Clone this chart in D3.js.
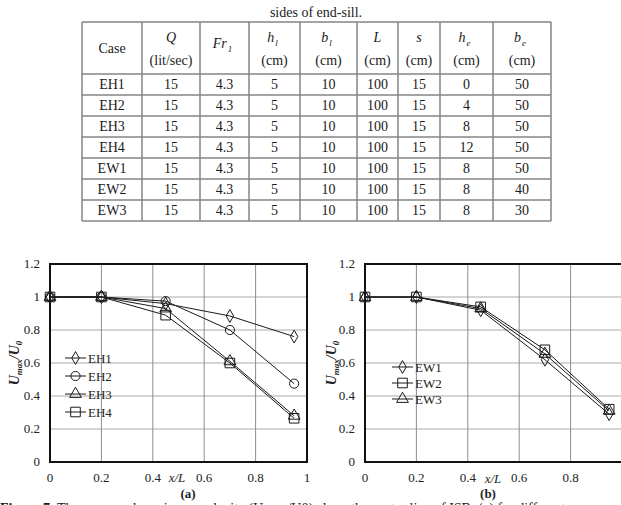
<!DOCTYPE html>
<html>
<head>
<meta charset="utf-8">
<title>End-sill velocity decay</title>
<script src="https://cdn.jsdelivr.net/npm/d3@7"></script>
<style>
  body { margin: 0; background: #fff; }
  svg { display: block; background: #fff; font-family: "Liberation Serif", "Times New Roman", serif; }
  .rule { stroke: #858585; stroke-width: 1.5; }
  .cell { font-size: 14px; fill: #1a1a1a; }
  .grid-h { stroke: #c6c6c6; stroke-width: 1.5; }
  .grid-v { stroke: #8e8e8e; stroke-width: 1; }
  .frame { fill: none; stroke: #111; stroke-width: 2; }
  .series { fill: none; stroke: #1a1a1a; stroke-width: 1; }
  .mark { fill: none; stroke: #1a1a1a; stroke-width: 1; }
  .tick { font-size: 13px; fill: #222; }
</style>
</head>
<body>
<svg width="621" height="505"></svg>
<script>
// table values
var cases  = ["EH1", "EH2", "EH3", "EH4", "EW1", "EW2", "EW3"];
var flowQ  = [15, 15, 15, 15, 15, 15, 15];
var froude = [4.3, 4.3, 4.3, 4.3, 4.3, 4.3, 4.3];
var sillH  = [5, 5, 5, 5, 5, 5, 5];
var sillB  = [10, 10, 10, 10, 10, 10, 10];
var basinL = [100, 100, 100, 100, 100, 100, 100];
var sillS  = [15, 15, 15, 15, 15, 15, 15];
var openH  = [0, 4, 8, 12, 8, 8, 8];
var openB  = [50, 50, 50, 50, 50, 40, 30];

var headSym  = ["", "Q", "Fr", "h", "b", "L", "s", "h", "b"];
var headSub  = ["", "", "1", "l", "l", "", "", "e", "e"];
var headUnit = ["", "(lit/sec)", "", "(cm)", "(cm)", "(cm)", "(cm)", "(cm)", "(cm)"];

// chart values (x/L and Umax/U0)
var xL  = [0, 0.2, 0.45, 0.7, 0.95];
var eh1 = [1, 1, 0.96, 0.885, 0.76];
var eh2 = [1, 1, 0.975, 0.8, 0.475];
var eh3 = [1, 1, 0.93, 0.61, 0.28];
var eh4 = [1, 1, 0.89, 0.6, 0.265];
var ew1 = [1, 1, 0.92, 0.62, 0.29];
var ew2 = [1, 1, 0.94, 0.68, 0.32];
var ew3 = [1, 1, 0.93, 0.655, 0.31];

var xTicks = [0, 0.2, 0.4, 0.6, 0.8, 1];
var yTicks = [0, 0.2, 0.4, 0.6, 0.8, 1, 1.2];

var svg = d3.select("svg");
var W = +svg.attr("width");

// ---- caption line above the table
svg.append("text").attr("class", "cell")
  .attr("x", 316).attr("y", 17).attr("text-anchor", "middle")
  .text("sides of end-sill.");

// ---- table
var colEdges = [82, 142, 200, 249, 300, 357, 398, 440, 493, 551];
var tableTop = 22, headBottom = 74, rowH = 21;
var tableBottom = headBottom + rowH * cases.length;
var columns = [cases, flowQ, froude, sillH, sillB, basinL, sillS, openH, openB];
var mid = function(i) { return (colEdges[i] + colEdges[i + 1]) / 2; };

var table = svg.append("g");

[tableTop, headBottom].concat(d3.range(1, cases.length + 1).map(function(r) {
  return headBottom + r * rowH;
})).forEach(function(y) {
  table.append("line").attr("class", "rule")
    .attr("x1", colEdges[0]).attr("x2", colEdges[colEdges.length - 1])
    .attr("y1", y).attr("y2", y);
});
colEdges.forEach(function(x) {
  table.append("line").attr("class", "rule")
    .attr("x1", x).attr("x2", x).attr("y1", tableTop).attr("y2", tableBottom);
});

// header cells
table.append("text").attr("class", "cell")
  .attr("x", mid(0)).attr("y", 53).attr("text-anchor", "middle").text("Case");

headSym.forEach(function(s, i) {
  if (!s) return;
  var t = table.append("text").attr("class", "cell")
    .attr("x", mid(i) - (headSub[i] ? 2 : 0))
    .attr("y", headUnit[i] ? 42 : 48)
    .attr("text-anchor", "middle");
  t.append("tspan").style("font-style", "italic").text(s);
  if (headSub[i]) {
    t.append("tspan").attr("dx", 1).attr("dy", 4)
      .style("font-style", "italic").style("font-size", "9px").text(headSub[i]);
  }
  if (headUnit[i]) {
    table.append("text").attr("class", "cell")
      .attr("x", mid(i)).attr("y", 65).attr("text-anchor", "middle").text(headUnit[i]);
  }
});

// body cells
columns.forEach(function(col, c) {
  table.selectAll(null).data(col).enter().append("text")
    .attr("class", "cell")
    .attr("x", mid(c))
    .attr("y", function(d, r) { return headBottom + r * rowH + 15; })
    .attr("text-anchor", "middle")
    .text(function(d) { return d; });
});

// ---- charts
var shape = {
  diamond: d3.symbol().type(d3.symbolDiamond).size(48),
  circle: d3.symbol().type(d3.symbolCircle).size(66),
  triangle: d3.symbol().type(d3.symbolTriangle).size(60),
  square: d3.symbol().type(d3.symbolSquare).size(92)
};

var panels = [
  { left: 50, names: ["EH1", "EH2", "EH3", "EH4"], series: [eh1, eh2, eh3, eh4],
    marks: ["diamond", "circle", "triangle", "square"],
    legX: 65, legY: 358, legStep: 18, titleX: 19, axisX: 177, axisY: 482, tag: "(a)", tagX: 188 },
  { left: 365, names: ["EW1", "EW2", "EW3"], series: [ew1, ew2, ew3],
    marks: ["diamond", "square", "triangle"],
    legX: 392, legY: 367, legStep: 16, titleX: 336, axisX: 493, axisY: 483, tag: "(b)", tagX: 488 }
];

panels.forEach(function(p) {
  var x = d3.scaleLinear().domain([0, 1]).range([p.left, p.left + 257]);
  var y = d3.scaleLinear().domain([0, 1.2]).range([462, 264]);
  var g = svg.append("g");

  g.selectAll(".grid-h").data(yTicks).enter().append("line")
    .attr("class", "grid-h")
    .attr("x1", x(0)).attr("x2", x(1))
    .attr("y1", function(d) { return y(d); }).attr("y2", function(d) { return y(d); });
  g.selectAll(".grid-v").data(xTicks).enter().append("line")
    .attr("class", "grid-v")
    .attr("y1", y(0)).attr("y2", y(1.2))
    .attr("x1", function(d) { return x(d); }).attr("x2", function(d) { return x(d); });

  g.append("rect").attr("class", "frame")
    .attr("x", x(0)).attr("y", y(1.2))
    .attr("width", x(1) - x(0)).attr("height", y(0) - y(1.2));

  g.selectAll(".ylab").data(yTicks).enter().append("text")
    .attr("class", "tick")
    .attr("x", x(0) - 10).attr("y", function(d) { return y(d) + 4; })
    .attr("text-anchor", "end")
    .text(function(d) { return d3.format("")(+d.toFixed(1)); });
  // labels past the right edge of the page are not shown
  g.selectAll(".xlab").data(xTicks.filter(function(d) { return x(d) < W - 6; }))
    .enter().append("text")
    .attr("class", "tick")
    .attr("x", function(d) { return x(d); }).attr("y", 482)
    .attr("text-anchor", "middle")
    .text(function(d) { return d3.format("")(+d.toFixed(1)); });

  // axis titles
  g.append("text").attr("class", "tick")
    .attr("x", p.axisX).attr("y", p.axisY).attr("text-anchor", "middle")
    .style("font-style", "italic").text("x/L");
  g.append("text").attr("class", "tick")
    .attr("x", p.tagX).attr("y", 498).attr("text-anchor", "middle")
    .style("font-weight", "bold").text(p.tag);

  var yt = g.append("text").attr("class", "tick")
    .attr("transform", "translate(" + p.titleX + ",363) rotate(-90)")
    .attr("text-anchor", "middle")
    .style("font-style", "italic").style("font-weight", "bold").style("font-size", "14px");
  yt.append("tspan").text("U");
  yt.append("tspan").attr("dy", 3).style("font-size", "9px").text("max");
  yt.append("tspan").attr("dy", -3).text("/U");
  yt.append("tspan").attr("dy", 3).style("font-size", "9px").text("0");

  var line = d3.line()
    .x(function(d, i) { return x(xL[i]); })
    .y(function(d) { return y(d); });

  p.series.forEach(function(s, k) {
    g.append("path").attr("class", "series").attr("d", line(s));
    g.selectAll(null).data(s).enter().append("path")
      .attr("class", "mark")
      .attr("transform", function(d, i) { return "translate(" + x(xL[i]) + "," + y(d) + ")"; })
      .attr("d", shape[p.marks[k]]());

    // legend entry
    var ly = p.legY + k * p.legStep;
    g.append("line").attr("class", "series")
      .attr("x1", p.legX).attr("x2", p.legX + 21).attr("y1", ly).attr("y2", ly);
    g.append("path").attr("class", "mark")
      .attr("transform", "translate(" + (p.legX + 10.5) + "," + ly + ")")
      .attr("d", shape[p.marks[k]]());
    g.append("text").attr("class", "tick")
      .attr("x", p.legX + 23).attr("y", ly + 4.5)
      .text(p.names[k]);
  });
});

// caption below the charts, cut by the bottom edge as in the source page
var cap = svg.append("text").attr("class", "cell")
  .attr("x", 0).attr("y", 513);
cap.append("tspan").style("font-weight", "bold").text("Figure 7. ");
cap.append("tspan").text("The mean and maximum velocity (Umax/U0) along the center line of ISB: (a) for different");
</script>
</body>
</html>
